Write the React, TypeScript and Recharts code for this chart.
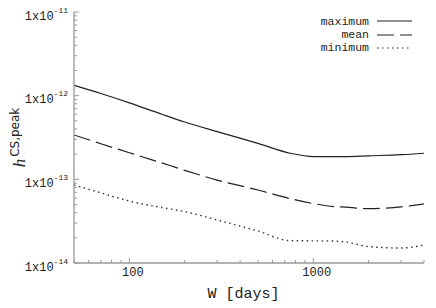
import React from 'react';
import { LineChart, Line, XAxis, YAxis, Label } from 'recharts';

// window lengths W [days]
const windowDays = [50, 70, 100, 150, 200, 300, 500, 750, 1000, 1300, 1500, 2000, 3000, 4000];

// h^{CS,peak}
const maximumH = [1.33e-12, 1.06e-12, 8.2e-13, 6.0e-13, 4.85e-13, 3.72e-13, 2.69e-13, 2.05e-13, 1.87e-13, 1.87e-13, 1.87e-13, 1.91e-13, 1.97e-13, 2.05e-13];
const meanH = [3.39e-13, 2.66e-13, 2.08e-13, 1.57e-13, 1.28e-13, 9.8e-14, 7.46e-14, 5.87e-14, 5.13e-14, 4.72e-14, 4.65e-14, 4.46e-14, 4.68e-14, 5.1e-14];
const minimumH = [8.57e-14, 6.9e-14, 5.5e-14, 4.6e-14, 4.11e-14, 3.27e-14, 2.41e-14, 1.85e-14, 1.84e-14, 1.83e-14, 1.78e-14, 1.57e-14, 1.51e-14, 1.64e-14];

const xTicks = [50, 60, 70, 80, 90, 100, 200, 300, 400, 500, 600, 700, 800, 900, 1000, 2000, 3000, 4000];
const xLabelled = [100, 1000];
const yTicks = [
  1e-14, 2e-14, 3e-14, 4e-14, 5e-14, 6e-14, 7e-14, 8e-14, 9e-14,
  1e-13, 2e-13, 3e-13, 4e-13, 5e-13, 6e-13, 7e-13, 8e-13, 9e-13,
  1e-12, 2e-12, 3e-12, 4e-12, 5e-12, 6e-12, 7e-12, 8e-12, 9e-12,
  1e-11,
];

const data = windowDays.map((w, i) => ({
  w,
  maximum: maximumH[i],
  mean: meanH[i],
  minimum: minimumH[i],
}));

const MONO = '"Liberation Mono", "DejaVu Sans Mono", monospace';
const FRAME = '#9a9a9a';
const INK = '#222';

const isDecade = (v: number) => Math.abs(Math.log10(v) - Math.round(Math.log10(v))) < 1e-6;

const LeftTick = ({ x, y, payload }: any) => {
  const v = payload.value;
  const major = isDecade(v);
  return (
    <g>
      <line x1={x} y1={y} x2={x + (major ? 5 : 3)} y2={y} stroke={FRAME} strokeWidth={1} />
      {major && (
        <text x={x - 6} y={y + 7.5} textAnchor="end" fontFamily={MONO} fontSize={12} fill={INK}>
          <tspan>1x10</tspan>
          <tspan dy={-7} fontSize={8}>{Math.round(Math.log10(v))}</tspan>
        </text>
      )}
    </g>
  );
};

const RightTick = ({ x, y, payload }: any) => {
  const major = isDecade(payload.value);
  return <line x1={x} y1={y} x2={x - (major ? 5 : 3)} y2={y} stroke={FRAME} strokeWidth={1} />;
};

const BottomTick = ({ x, y, payload }: any) => {
  const v = payload.value;
  const major = isDecade(v);
  return (
    <g>
      <line x1={x} y1={y} x2={x} y2={y - (major ? 5 : 3)} stroke={FRAME} strokeWidth={1} />
      {xLabelled.includes(v) && (
        <text x={x + 3.5} y={y + 12.7} textAnchor="middle" fontFamily={MONO} fontSize={12} fill={INK}>
          {v}
        </text>
      )}
    </g>
  );
};

const TopTick = ({ x, y, payload }: any) => {
  const major = isDecade(payload.value);
  return <line x1={x} y1={y} x2={x} y2={y + (major ? 5 : 3)} stroke={FRAME} strokeWidth={1} />;
};

const YTitle = ({ viewBox }: any) => {
  const cx = 25;
  const cy = viewBox.y + viewBox.height / 2;
  return (
    <text x={cx} y={cy} transform={`rotate(-90, ${cx}, ${cy})`} textAnchor="middle" fill={INK}>
      <tspan fontFamily='"Liberation Serif", serif' fontStyle="italic" fontSize={17}>h</tspan>
      <tspan dx={2} dy={-6} fontFamily='"DejaVu Sans", sans-serif' fontSize={12}>CS,peak</tspan>
    </text>
  );
};

const XTitle = ({ viewBox }: any) => (
  <text x={viewBox.x + 169.5} y={viewBox.y + 35} textAnchor="middle" fontFamily={MONO} fontSize={15} fill={INK}>
    W [days]
  </text>
);

const legendRows = [
  { name: 'maximum', dash: undefined },
  { name: 'mean', dash: '17 6' },
  { name: 'minimum', dash: '1.5 3.5' },
];

export default function App() {
  return (
    <div style={{ position: 'relative', width: 436, height: 308, background: '#fff' }}>
      <style>{'body{margin:0}'}</style>
      <LineChart width={436} height={308} data={data} margin={{ top: 12, right: 12, bottom: 0, left: 0 }}>
        <XAxis
          dataKey="w"
          type="number"
          scale="log"
          domain={[50, 4000]}
          allowDataOverflow
          ticks={xTicks}
          interval={0}
          tick={<BottomTick />}
          tickSize={0}
          tickMargin={0}
          tickLine={false}
          axisLine={{ stroke: FRAME, strokeWidth: 1.3 }}
          height={45}
        >
          <Label content={<XTitle />} />
        </XAxis>
        <XAxis
          xAxisId="top"
          orientation="top"
          dataKey="w"
          type="number"
          scale="log"
          domain={[50, 4000]}
          allowDataOverflow
          ticks={xTicks}
          interval={0}
          tick={<TopTick />}
          tickSize={0}
          tickMargin={0}
          tickLine={false}
          axisLine={{ stroke: FRAME, strokeWidth: 1.3 }}
          height={0}
        />
        <YAxis
          type="number"
          scale="log"
          domain={[1e-14, 1e-11]}
          allowDataOverflow
          ticks={yTicks}
          interval={0}
          tick={<LeftTick />}
          tickSize={0}
          tickMargin={0}
          tickLine={false}
          axisLine={{ stroke: FRAME, strokeWidth: 1.3 }}
          width={74}
        >
          <Label content={<YTitle />} />
        </YAxis>
        <YAxis
          yAxisId="right"
          orientation="right"
          type="number"
          scale="log"
          domain={[1e-14, 1e-11]}
          allowDataOverflow
          ticks={yTicks}
          interval={0}
          tick={<RightTick />}
          tickSize={0}
          tickMargin={0}
          tickLine={false}
          axisLine={{ stroke: FRAME, strokeWidth: 1.3 }}
          width={0}
        />
        <Line dataKey="maximum" type="monotone" stroke={INK} strokeWidth={1.2} dot={false} isAnimationActive={false} />
        <Line dataKey="mean" type="monotone" stroke={INK} strokeWidth={1.2} strokeDasharray="17 6" dot={false} isAnimationActive={false} />
        <Line dataKey="minimum" type="monotone" stroke="#333" strokeWidth={1.4} strokeDasharray="1.5 3.5" dot={false} isAnimationActive={false} />
      </LineChart>
      <div style={{ position: 'absolute', left: 289, top: 14.8, fontFamily: MONO, fontSize: 11.5, color: INK }}>
        {legendRows.map((r) => (
          <div key={r.name} style={{ display: 'flex', alignItems: 'center', height: 13.2 }}>
            <span style={{ width: 80, lineHeight: '13px', textAlign: 'right' }}>{r.name}</span>
            <svg width={35} height={12} style={{ marginLeft: 8 }}>
              <line x1={0} y1={6} x2={35} y2={6} stroke={INK} strokeWidth={1.2} strokeDasharray={r.dash} />
            </svg>
          </div>
        ))}
      </div>
    </div>
  );
}
